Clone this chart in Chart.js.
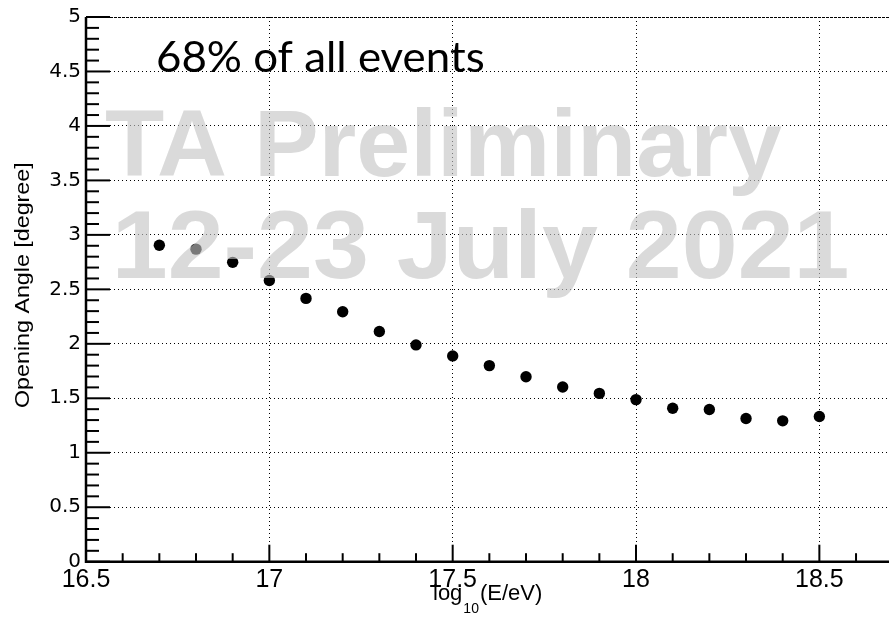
<!DOCTYPE html>
<html>
<head>
<meta charset="utf-8">
<script src="https://cdn.jsdelivr.net/npm/chart.js"></script>
<style>
  html, body { margin: 0; padding: 0; overflow: hidden; background: #fff; }
  canvas { display: block; }
</style>
</head>
<body>
<canvas id="c" width="900" height="617"></canvas>
<script>
// ---- data ----
const energies = [16.7, 16.8, 16.9, 17.0, 17.1, 17.2, 17.3, 17.4, 17.5, 17.6, 17.7, 17.8, 17.9, 18.0, 18.1, 18.2, 18.3, 18.4, 18.5];
const openingAngle = [2.905, 2.869, 2.748, 2.581, 2.417, 2.295, 2.113, 1.990, 1.889, 1.800, 1.698, 1.603, 1.545, 1.488, 1.409, 1.397, 1.315, 1.293, 1.333];
const xTicks = [16.5, 17.0, 17.5, 18.0, 18.5];
const xTickLabels = ['16.5', '17', '17.5', '18', '18.5'];
const yTicks = [0, 0.5, 1, 1.5, 2, 2.5, 3, 3.5, 4, 4.5, 5];
const yTickLabels = ['0', '0.5', '1', '1.5', '2', '2.5', '3', '3.5', '4', '4.5', '5'];
const xMinorStep = 0.1, yMinorStep = 0.1;
const xTitle = ['log', '10', '(E/eV)'];
const yTitle = 'Opening Angle [degree]';
const annotation = '68% of all events';
const watermark = ['TA Preliminary', '12-23 July 2021'];

function fitText(ctx, text, left, right, baseline, font) {
  ctx.font = font;
  ctx.textAlign = 'left';
  ctx.textBaseline = 'alphabetic';
  const m = ctx.measureText(text);
  const inkW = m.actualBoundingBoxLeft + m.actualBoundingBoxRight;
  const s = (right - left) / inkW;
  ctx.save();
  ctx.translate(left, baseline);
  ctx.scale(s, 1);
  ctx.fillText(text, m.actualBoundingBoxLeft, 0);
  ctx.restore();
}

const watermarkPlugin = {
  id: 'watermark',
  afterDatasetsDraw(chart) {
    const ctx = chart.ctx;
    ctx.save();
    ctx.fillStyle = 'rgba(195,195,195,0.62)';
    fitText(ctx, watermark[0], 106, 782, 176, 'bold 95px "Liberation Sans", Arial, sans-serif');
    fitText(ctx, watermark[1], 118, 847, 278, 'bold 96px "Liberation Sans", Arial, sans-serif');
    ctx.restore();
  }
};

const framePlugin = {
  id: 'frame',
  afterDraw(chart) {
    const ctx = chart.ctx;
    const xs = chart.scales.x, ys = chart.scales.y;
    const a = chart.chartArea;
    ctx.save();
    ctx.strokeStyle = '#000';
    // top frame line
    ctx.lineWidth = 1;
    ctx.setLineDash([3, 1]);
    ctx.beginPath(); ctx.moveTo(a.left, a.top + 0.5); ctx.lineTo(a.right, a.top + 0.5); ctx.stroke();
    ctx.setLineDash([]);
    // inward ticks
    ctx.lineWidth = 2;
    const nY = Math.round((ys.max - ys.min) / yMinorStep);
    for (let i = 0; i <= nY; i++) {
      const v = ys.min + i * yMinorStep;
      const py = ys.getPixelForValue(v);
      const major = i % 5 === 0;
      ctx.beginPath(); ctx.moveTo(a.left, py); ctx.lineTo(a.left + (major ? 24 : 13), py); ctx.stroke();
    }
    const nX = Math.round((xs.max - xs.min) / xMinorStep);
    for (let i = 0; i <= nX; i++) {
      const v = xs.min + i * xMinorStep;
      const px = xs.getPixelForValue(v);
      const major = i % 5 === 0;
      ctx.beginPath(); ctx.moveTo(px, a.bottom); ctx.lineTo(px, a.bottom - (major ? 17 : 8.5)); ctx.stroke();
    }
    // axis lines
    ctx.lineWidth = 2.5;
    ctx.beginPath();
    ctx.moveTo(a.left, a.top); ctx.lineTo(a.left, a.bottom); ctx.lineTo(a.right, a.bottom);
    ctx.stroke();

    // axis titles
    ctx.fillStyle = '#000';
    ctx.textBaseline = 'alphabetic';
    ctx.textAlign = 'left';
    ctx.font = '22px "Liberation Sans", Arial, sans-serif';
    let x0 = 433;
    ctx.fillText(xTitle[0], x0, 600);
    x0 += ctx.measureText(xTitle[0]).width + 1;
    ctx.font = '14px "Liberation Sans", Arial, sans-serif';
    ctx.fillText(xTitle[1], x0, 613);
    x0 += ctx.measureText(xTitle[1]).width + 1;
    ctx.font = '22px "Liberation Sans", Arial, sans-serif';
    ctx.fillText(xTitle[2], x0, 600);

    ctx.save();
    ctx.translate(29, 408);
    ctx.rotate(-Math.PI / 2);
    fitText(ctx, yTitle, 0, 245, 0, '20px "Liberation Sans", Arial, sans-serif');
    ctx.restore();

    // annotation
    fitText(ctx, annotation, 158, 483, 71.7, '43px Lato, "Open Sans", sans-serif');
    ctx.restore();
  }
};

new Chart(document.getElementById('c'), {
  type: 'scatter',
  data: {
    datasets: [{
      data: energies.map((x, i) => ({ x: x, y: openingAngle[i] })),
      backgroundColor: '#000',
      borderWidth: 0,
      pointRadius: 5.7,
      pointHoverRadius: 5.7
    }]
  },
  options: {
    responsive: false,
    animation: false,
    events: [],
    layout: { padding: { top: 13, right: 7.3, left: 0, bottom: 0 } },
    plugins: { legend: { display: false }, tooltip: { enabled: false } },
    scales: {
      x: {
        type: 'linear', min: 16.5, max: 18.7, z: 1,
        afterBuildTicks: s => { s.ticks = xTicks.map(v => ({ value: v })); },
        afterFit: s => { s.height = 617 - 561.7; },
        ticks: {
          autoSkip: false, maxRotation: 0, padding: 3, color: '#000',
          font: { family: '"Liberation Sans", Arial, sans-serif', size: 25 },
          callback: (v) => { const i = xTicks.findIndex(t => Math.abs(t - v) < 1e-6); return i >= 0 ? xTickLabels[i] : ''; }
        },
        grid: { color: '#000', lineWidth: 1, drawTicks: false },
        border: { display: false, dash: [1, 3] }
      },
      y: {
        type: 'linear', min: 0, max: 5, z: 1,
        afterBuildTicks: s => { s.ticks = yTicks.map(v => ({ value: v })); },
        afterFit: s => { s.width = 86; },
        ticks: {
          autoSkip: false, padding: 5, color: '#000',
          font: { family: '"DejaVu Sans", sans-serif', size: 20 },
          callback: (v) => { const i = yTicks.findIndex(t => Math.abs(t - v) < 1e-6); return i >= 0 ? yTickLabels[i] : ''; }
        },
        grid: { color: '#000', lineWidth: 1, drawTicks: false },
        border: { display: false, dash: [1, 3] }
      }
    }
  },
  plugins: [watermarkPlugin, framePlugin]
});
</script>
</body>
</html>
